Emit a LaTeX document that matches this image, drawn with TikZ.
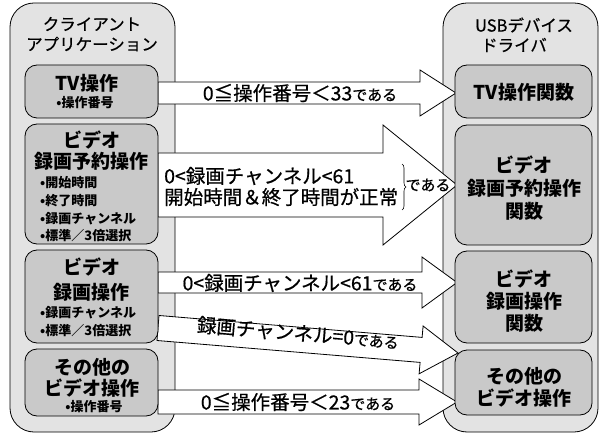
\documentclass[tikz,border=0pt]{standalone}
\usepackage{fontspec}
\setmainfont{Noto Sans CJK JP}
\newfontfamily\medfont{Noto Sans CJK JP}[FakeBold=0.6]
\usetikzlibrary{decorations.pathreplacing}
\newcommand\blockarr[6]{%
  \draw[arr] (#1,#4-#5) -- (#2,#4-#5) -- (#2,#4-#6) -- (#3,#4) -- (#2,#4+#6) -- (#2,#4+#5) -- (#1,#4+#5) -- cycle;}
\begin{document}
\begin{tikzpicture}[x=1pt,y=-1pt,
  container/.style={draw, fill=gray!22, rounded corners=24, line width=0.8, inner sep=0},
  ibox/.style={draw, fill=gray!42, rounded corners=12, line width=0.8, inner sep=0},
  arr/.style={draw, fill=white, line width=0.8, line join=miter},
  ttl/.style={font=\medfont\fontsize{16.5}{18}\selectfont, inner sep=0},
  btitle/.style={font=\bfseries\fontsize{19}{22}\selectfont, inner sep=0},
  bul/.style={font=\bfseries\fontsize{13}{14}\selectfont, inner sep=0},
  atext/.style={font=\medfont\fontsize{19.5}{21}\selectfont, inner sep=0},
  small/.style={font=\medfont\fontsize{15}{16}\selectfont, inner sep=0}]
\useasboundingbox (0,0) rectangle (604,435);
\fill[white] (0,0) rectangle (604,435);
% containers
\node[container, minimum width=165, minimum height=429] (lc) at (92.5,217.5) {};
\node[container, minimum width=155, minimum height=429] (rc) at (520.5,217.5) {};
% arrows
\blockarr{158}{420}{456}{93}{11}{23}
\blockarr{158}{383}{457}{185}{32}{60}
\blockarr{158}{422}{457}{282.5}{10.5}{25.5}
\blockarr{158}{419}{457}{402}{12}{23}
\draw[arr] (159.0,315.5) -- (422.1,337.4) -- (423.1,326.0) -- (458,353) -- (419.1,373.8) -- (420.1,362.4) -- (157.0,340.5) -- cycle;
% left inner boxes
\node[ibox, minimum width=133, minimum height=53] (lTV) at (91.5,91.5) {};
\node[ibox, minimum width=133, minimum height=120] (lRes) at (91.5,184) {};
\node[ibox, minimum width=133, minimum height=93] (lRec) at (91.5,296.5) {};
\node[ibox, minimum width=133, minimum height=67] (lOth) at (91.5,382.5) {};
% right inner boxes
\node[ibox, minimum width=137, minimum height=53] (rTV) at (523.5,91.5) {};
\node[ibox, minimum width=137, minimum height=120] (rRes) at (523.5,185) {};
\node[ibox, minimum width=137, minimum height=92] (rRec) at (523.5,297) {};
\node[ibox, minimum width=137, minimum height=65] (rOth) at (523.5,382.5) {};
% titles
\node[ttl] (lt1) at (92,24) {クライアント};
\node[ttl] (lt2) at (92,44) {アプリケーション};
\node[ttl] (rt1) at (524,25) {USBデバイス};
\node[ttl] (rt2) at (514,45) {ドライバ};
% left box texts
\node[btitle] (lTVa) at (87,83) {TV操作};
\node[bul] (lTVb) at (85,103) {•操作番号};
\node[btitle] (lResa) at (91.5,140) {ビデオ};
\node[btitle] (lResb) at (91.5,161) {録画予約操作};
\node[bul, anchor=west] (lResc) at (40,183) {•開始時間};
\node[bul, anchor=west] (lResd) at (40,201) {•終了時間};
\node[bul, anchor=west] (lRese) at (40,219) {•録画チャンネル};
\node[bul, anchor=west] (lResf) at (40,236) {•標準／3倍選択};
\node[btitle] (lReca) at (91.5,267) {ビデオ};
\node[btitle] (lRecb) at (91.5,292) {録画操作};
\node[bul, anchor=west] (lRecc) at (40,313) {•録画チャンネル};
\node[bul, anchor=west] (lRecd) at (40,331) {•標準／3倍選択};
\node[btitle] (lOtha) at (92,367) {その他の};
\node[btitle] (lOthb) at (92,388) {ビデオ操作};
\node[bul] (lOthc) at (94,407) {•操作番号};
% right box texts
\node[btitle] (rTVa) at (524,92) {TV操作関数};
\node[btitle] (rResa) at (524,165) {ビデオ};
\node[btitle] (rResb) at (524,188) {録画予約操作};
\node[btitle] (rResc) at (524,211) {関数};
\node[btitle] (rReca) at (524,279) {ビデオ};
\node[btitle] (rRecb) at (524,301) {録画操作};
\node[btitle] (rRecc) at (524,323) {関数};
\node[btitle] (rOtha) at (524,376) {その他の};
\node[btitle] (rOthb) at (524,398) {ビデオ操作};
% arrow texts
\node[atext] (a1) at (300,93) {0≦操作番号＜33{\fontsize{15}{16}\selectfont である}};
\node[atext, anchor=west] (a2a) at (164,176) {0<録画チャンネル<61};
\node[atext, anchor=west] (a2b) at (164,197) {開始時間＆終了時間が正常};
\draw[decorate, decoration={brace, amplitude=4}, line width=0.6] (402,164) -- (402,210);
\node[small] (a2c) at (428,185) {である};
\node[atext] (a3) at (300,283) {0<録画チャンネル<61{\fontsize{15}{16}\selectfont である}};
\node[atext, rotate=-4.76] (a4) at (298,333) {録画チャンネル=0{\fontsize{15}{16}\selectfont である}};
\node[atext] (a5) at (298,402) {0≦操作番号＜23{\fontsize{15}{16}\selectfont である}};
\end{tikzpicture}
\end{document}
